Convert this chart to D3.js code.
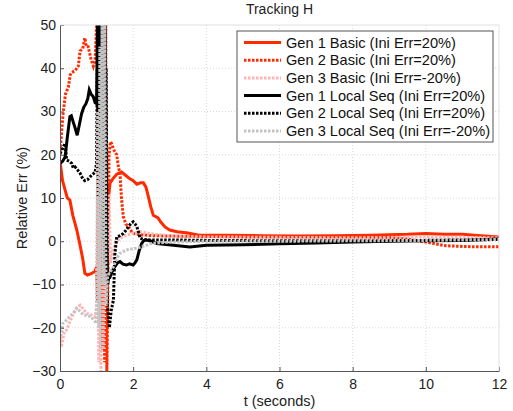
<!DOCTYPE html>
<html>
<head>
<meta charset="utf-8">
<script src="https://cdn.jsdelivr.net/npm/d3@7"></script>
<style>
  body { margin: 0; background: #fff; }
  text { font-family: Arial, "Liberation Sans", sans-serif; }
</style>
</head>
<body>
<svg id="chart"></svg>
<script>
// values, [t, err %]
const gen1Basic = [[0,18.5],[0.07,14],[0.14,11.8],[0.2,10],[0.27,9.5],[0.35,6],[0.46,2.6],[0.55,-1],[0.62,-4],[0.68,-7.4],[0.75,-7.8],[0.85,-7.5],[0.95,-7],[1.0,-6],[1.03,-14],[1.06,-3],[1.1,-10],[1.14,5],[1.18,-5],[1.22,2],[1.27,-8],[1.32,10],[1.37,13.5],[1.45,14.5],[1.55,15.5],[1.68,16],[1.8,15.2],[1.9,14.5],[2.0,14],[2.1,13.2],[2.2,13.5],[2.28,13.5],[2.35,12.5],[2.41,10.5],[2.48,8],[2.55,6],[2.68,5.4],[2.75,4.5],[2.87,3.3],[3.0,2.6],[3.2,2.2],[3.5,1.9],[3.8,1.4],[4.5,1.4],[5.5,1.3],[6.5,1.2],[7.5,1.3],[8.5,1.4],[9.5,1.6],[10,1.8],[10.5,1.6],[11,1.6],[11.5,1.3],[12,1.0]];
const gen2Basic = [[0,20],[0.05,26],[0.09,30],[0.15,34],[0.23,35.7],[0.28,38.5],[0.32,39],[0.42,39.5],[0.5,40.5],[0.55,44],[0.62,44.5],[0.68,47],[0.72,45],[0.77,45],[0.85,42],[0.91,40.5],[0.96,42],[1.0,50],[1.02,55],[1.04,-14],[1.07,55],[1.1,-20],[1.13,55],[1.16,-25],[1.19,55],[1.22,-28],[1.25,52],[1.28,-31],[1.31,-10],[1.34,20],[1.38,23],[1.41,22.6],[1.48,21],[1.55,20],[1.6,17],[1.64,15.7],[1.68,10],[1.73,5.7],[1.8,4],[1.87,3.4],[1.95,2.3],[2.0,1.8],[2.2,1.5],[2.5,1.3],[3,1.2],[4,1.1],[5,1],[6,1],[7,1],[8,1],[9,0.9],[9.5,0.5],[10,-0.2],[10.5,-1],[11,-1.2],[11.5,-1.3],[12,-1.3]];
const gen3Basic = [[0,-22],[0.03,-24.5],[0.07,-23],[0.12,-21],[0.18,-20.5],[0.25,-19],[0.35,-17],[0.46,-15.5],[0.55,-14.8],[0.62,-15.5],[0.73,-16.7],[0.85,-17],[0.96,-17.5],[1.0,-15],[1.03,10],[1.06,-28],[1.09,20],[1.12,-31],[1.15,30],[1.18,-25],[1.22,40],[1.26,-10],[1.3,5],[1.34,11],[1.38,-5],[1.45,-2],[1.55,0],[1.64,0.7],[1.75,1.2],[1.96,1.8],[2.19,2.2],[2.46,1.8],[3,1.2],[4,1],[6,0.9],[8,0.8],[10,1],[12,0.8]];
const gen1Local = [[0,18],[0.07,18.5],[0.14,19.5],[0.2,24],[0.27,28.8],[0.31,29],[0.36,27.6],[0.42,26],[0.47,24.5],[0.53,27],[0.59,29.5],[0.65,31],[0.71,31.8],[0.76,33],[0.8,35],[0.85,34],[0.91,33.4],[0.96,32],[1.0,31.8],[1.03,55],[1.05,25],[1.07,55],[1.09,20],[1.11,55],[1.13,18],[1.15,55],[1.17,22],[1.19,55],[1.21,25],[1.23,55],[1.25,30],[1.27,0],[1.3,-10],[1.34,-8],[1.37,-8.2],[1.45,-6.5],[1.5,-5.9],[1.57,-5],[1.64,-4.7],[1.72,-5.3],[1.82,-5.5],[1.9,-5.2],[2.0,-5.5],[2.05,-5],[2.1,-4.3],[2.17,-2],[2.23,-0.5],[2.3,0.2],[2.37,0.3],[2.5,0],[2.64,-0.5],[3.1,-0.9],[3.55,-1.3],[4,-0.9],[5,-0.8],[6,-0.6],[7,-0.4],[8,-0.2],[9,0],[10,0.1],[11,0.2],[12,0.5]];
const gen2Local = [[0,20.3],[0.05,21],[0.1,22],[0.14,22.6],[0.18,18.8],[0.25,18.5],[0.32,18],[0.36,17],[0.41,17.2],[0.48,16.5],[0.55,15.7],[0.62,14.5],[0.68,14],[0.75,14.2],[0.82,14.9],[0.9,15.5],[0.96,16],[1.0,18],[1.03,55],[1.05,10],[1.08,55],[1.11,5],[1.14,55],[1.17,0],[1.2,55],[1.23,-5],[1.26,40],[1.3,-15],[1.35,-20],[1.4,-16],[1.46,-13.6],[1.5,-3],[1.55,1],[1.65,1.3],[1.73,1.8],[1.8,2.5],[1.87,3.4],[1.95,4.2],[2.0,4.5],[2.05,4],[2.1,3.4],[2.15,2],[2.19,0.7],[2.3,0.4],[2.5,0.3],[3,0.3],[4,0.2],[6,0.1],[8,0.1],[10,0.2],[12,0.4]];
const gen3Local = [[0,-22.9],[0.04,-21],[0.08,-19],[0.15,-18.5],[0.25,-17.5],[0.36,-16.7],[0.45,-15.5],[0.52,-16],[0.64,-17],[0.75,-17.2],[0.85,-17.5],[0.95,-18.5],[1.0,-19],[1.03,30],[1.06,-20],[1.09,45],[1.12,-25],[1.15,52],[1.18,-10],[1.22,55],[1.26,-15],[1.3,-8],[1.38,-7],[1.46,-5.9],[1.55,-4],[1.64,-2.8],[1.75,-2.3],[1.82,-2],[1.95,-1.8],[2.1,-1.6],[2.25,-1.2],[2.37,-0.9],[2.5,-0.5],[3,-0.2],[4,0],[6,0],[8,0.1],[10,0.2],[12,0.4]];

const seriesNames = ['Gen 1 Basic (Ini Err=20%)', 'Gen 2 Basic (Ini Err=20%)', 'Gen 3 Basic (Ini Err=-20%)',
  'Gen 1 Local Seq (Ini Err=20%)', 'Gen 2 Local Seq (Ini Err=20%)', 'Gen 3 Local Seq (Ini Err=-20%)'];
const xTicks = [0, 2, 4, 6, 8, 10, 12];
const yTicks = [-30, -20, -10, 0, 10, 20, 30, 40, 50];

const width = 513, height = 411;
const margin = {left: 60, right: 14, top: 25, bottom: 40};

const series = [
  {name: seriesNames[0], data: gen1Basic, color: '#ff2a00', dash: null},
  {name: seriesNames[1], data: gen2Basic, color: '#ff2a00', dash: '2.5,1.5'},
  {name: seriesNames[2], data: gen3Basic, color: '#ffb4b4', dash: '2.5,1.5'},
  {name: seriesNames[3], data: gen1Local, color: '#000000', dash: null},
  {name: seriesNames[4], data: gen2Local, color: '#000000', dash: '2.5,1.5'},
  {name: seriesNames[5], data: gen3Local, color: '#c4c4c4', dash: '2.5,1.5'}
];

const svg = d3.select('#chart').attr('width', width).attr('height', height);
const w = width - margin.left - margin.right;
const h = height - margin.top - margin.bottom;
const g = svg.append('g').attr('transform', `translate(${margin.left},${margin.top})`);

const x = d3.scaleLinear().domain([0, 12]).range([0, w]);
const y = d3.scaleLinear().domain([-30, 50]).range([h, 0]);

// grid
g.append('g').selectAll('line').data(xTicks.slice(1, -1)).join('line')
  .attr('x1', d => x(d)).attr('x2', d => x(d)).attr('y1', 0).attr('y2', h)
  .attr('stroke', '#d8d8d8').attr('stroke-dasharray', '1,2');
g.append('g').selectAll('line').data(yTicks.slice(1, -1)).join('line')
  .attr('y1', d => y(d)).attr('y2', d => y(d)).attr('x1', 0).attr('x2', w)
  .attr('stroke', '#d8d8d8').attr('stroke-dasharray', '1,2');

// lines
g.append('clipPath').attr('id', 'clip').append('rect').attr('width', w).attr('height', h);
const line = d3.line().x(d => x(d[0])).y(d => y(d[1]));
const lines = g.append('g').attr('clip-path', 'url(#clip)');
series.forEach(s => {
  lines.append('path').datum(s.data)
    .attr('fill', 'none').attr('stroke', s.color).attr('stroke-width', 3)
    .attr('stroke-dasharray', s.dash)
    .attr('d', line);
});

// axes
const xAxis = g.append('g').attr('transform', `translate(0,${h})`)
  .call(d3.axisBottom(x).tickValues(xTicks).tickSizeInner(-4).tickSizeOuter(0).tickPadding(8));
const yAxis = g.append('g')
  .call(d3.axisLeft(y).tickValues(yTicks).tickSizeInner(-4).tickSizeOuter(0).tickPadding(4));
[xAxis, yAxis].forEach(a => {
  a.select('.domain').attr('stroke', '#555');
  a.selectAll('.tick line').attr('stroke', '#555');
  a.selectAll('.tick text').attr('fill', '#222').style('font-size', '14px').style('font-family', 'Arial, "Liberation Sans", sans-serif');
});
// top / right box
g.append('line').attr('x1', 0).attr('x2', w).attr('y1', 0).attr('y2', 0).attr('stroke', '#e0e0e0');
g.append('line').attr('x1', w).attr('x2', w).attr('y1', 0).attr('y2', h).attr('stroke', '#e0e0e0');

// labels
svg.append('text').attr('x', margin.left + w / 2).attr('y', 14).attr('text-anchor', 'middle')
  .style('font-size', '14px').attr('fill', '#222').text('Tracking H');
svg.append('text').attr('x', margin.left + w / 2).attr('y', 406).attr('text-anchor', 'middle')
  .style('font-size', '14.5px').attr('fill', '#222').text('t (seconds)');
svg.append('text').attr('transform', `translate(27,${margin.top + h / 2}) rotate(-90)`)
  .attr('text-anchor', 'middle').style('font-size', '14.5px').attr('fill', '#222').text('Relative Err (%)');

// legend
const lg = svg.append('g').attr('transform', 'translate(237,31)');
lg.append('rect').attr('width', 256).attr('height', 111).attr('fill', '#fff').attr('stroke', '#555');
series.forEach((s, i) => {
  const ly = 11.5 + i * 17.7;
  lg.append('line').attr('x1', 7).attr('x2', 44).attr('y1', ly).attr('y2', ly)
    .attr('stroke', s.color).attr('stroke-width', 3).attr('stroke-dasharray', s.dash);
  lg.append('text').attr('x', 49).attr('y', ly + 5).style('font-size', '14.6px').attr('fill', '#111').text(s.name);
});
</script>
</body>
</html>
